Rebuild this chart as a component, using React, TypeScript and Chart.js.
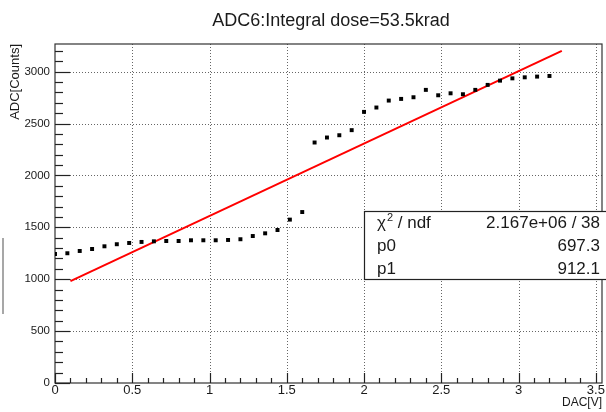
import React, { useEffect, useRef } from "react";
import { Chart, registerables } from "chart.js";

Chart.register(...registerables);

const TITLE = "ADC6:Integral dose=53.5krad";
const X_TITLE = "DAC[V]";
const Y_TITLE = "ADC[Counts]";

const DAC_V = [
  0, 0.08, 0.16, 0.24, 0.32, 0.4, 0.48, 0.56, 0.64, 0.72, 0.8, 0.88, 0.96, 1.04,
  1.12, 1.2, 1.28, 1.36, 1.44, 1.52, 1.6, 1.68, 1.76, 1.84, 1.92, 2.0, 2.08,
  2.16, 2.24, 2.32, 2.4, 2.48, 2.56, 2.64, 2.72, 2.8, 2.88, 2.96, 3.04, 3.12, 3.2,
];
const ADC_COUNTS = [
  1243, 1250, 1272, 1291, 1317, 1337, 1349, 1359, 1365, 1368, 1368, 1375, 1375,
  1375, 1378, 1385, 1416, 1442, 1474, 1574, 1647, 2317, 2365, 2387, 2436, 2612,
  2654, 2721, 2737, 2753, 2824, 2772, 2791, 2782, 2824, 2872, 2913, 2935, 2945,
  2952, 2958,
];

const X_TICKS = [0, 0.5, 1, 1.5, 2, 2.5, 3, 3.5];
const Y_TICKS = [0, 500, 1000, 1500, 2000, 2500, 3000];
const X_MINOR_STEP = 0.1;
const Y_MINOR_STEP = 100;
const X_RANGE = [0, 3.54];
const Y_RANGE = [0, 3266];

const FIT_RANGE = [0.1, 3.28];
const FIT_P0 = 697.3; // slope as drawn
const FIT_P1 = 912.1; // intercept as drawn

const STATS_LABELS = ["χ", "p0", "p1"];
const STATS_VALUES = ["2.167e+06 / 38", "697.3", "912.1"];

const FONT = "'Liberation Sans', Arial, Helvetica, sans-serif";
const TEXT = "#1a1a1a";

const rootStyle = {
  id: "rootStyle",
  beforeDatasetsDraw(chart: any) {
    const { ctx, chartArea: a, scales } = chart;
    const x = scales.x;
    const y = scales.y;
    ctx.save();
    // dotted grid
    ctx.strokeStyle = "#666";
    ctx.lineWidth = 1;
    ctx.setLineDash([1, 2]);
    X_TICKS.forEach((v) => {
      const px = Math.round(x.getPixelForValue(v)) + 0.5;
      if (px > a.left + 2 && px < a.right - 1) {
        ctx.beginPath();
        ctx.moveTo(px, a.top);
        ctx.lineTo(px, a.bottom);
        ctx.stroke();
      }
    });
    Y_TICKS.forEach((v) => {
      const py = Math.round(y.getPixelForValue(v)) + 0.5;
      if (py < a.bottom - 2 && py > a.top + 1) {
        ctx.beginPath();
        ctx.moveTo(a.left, py);
        ctx.lineTo(a.right, py);
        ctx.stroke();
      }
    });
    ctx.setLineDash([]);
    // frame
    ctx.strokeStyle = "#333";
    ctx.lineWidth = 1.2;
    ctx.strokeRect(a.left, a.top, a.right - a.left, a.bottom - a.top);
    // inward ticks
    ctx.strokeStyle = "#222";
    ctx.lineWidth = 1.2;
    for (let v = 0; v <= Y_RANGE[1] + 1e-6; v += Y_MINOR_STEP) {
      const major = Math.abs(v % 500) < 1e-6;
      const py = Math.round(y.getPixelForValue(v)) + 0.5;
      ctx.beginPath();
      ctx.moveTo(a.left, py);
      ctx.lineTo(a.left + (major ? 15 : 8), py);
      ctx.stroke();
    }
    for (let i = 0; i * X_MINOR_STEP <= X_RANGE[1] + 1e-6; i++) {
      const v = i * X_MINOR_STEP;
      const major = i % 5 === 0;
      const px = Math.round(x.getPixelForValue(v)) + 0.5;
      ctx.beginPath();
      ctx.moveTo(px, a.bottom);
      ctx.lineTo(px, a.bottom - (major ? 10 : 5));
      ctx.stroke();
    }
    // left-edge gray bar
    ctx.strokeStyle = "#8a8a8a";
    ctx.lineWidth = 1.5;
    ctx.beginPath();
    ctx.moveTo(3, 238);
    ctx.lineTo(3, 314);
    ctx.stroke();
    ctx.restore();
  },
  afterDraw(chart: any) {
    const { ctx } = chart;
    ctx.save();
    // title
    ctx.fillStyle = TEXT;
    ctx.font = `18px ${FONT}`;
    ctx.textAlign = "center";
    ctx.textBaseline = "alphabetic";
    ctx.fillText(TITLE, 331, 25.5);
    // stats box
    const bx = 364.5, by = 211.5, bw = 244, bh = 68;
    ctx.fillStyle = "#fff";
    ctx.fillRect(bx, by, bw, bh);
    ctx.strokeStyle = "#222";
    ctx.lineWidth = 1.2;
    ctx.strokeRect(bx, by, bw, bh);
    ctx.fillStyle = TEXT;
    const rows = [228, 251, 274];
    ctx.font = `17px ${FONT}`;
    ctx.textAlign = "left";
    // row 1: chi^2 / ndf
    ctx.fillText(STATS_LABELS[0], 377, rows[0]);
    let cx = 377 + ctx.measureText(STATS_LABELS[0]).width + 1;
    ctx.font = `11px ${FONT}`;
    ctx.fillText("2", cx, rows[0] - 7);
    cx += ctx.measureText("2").width;
    ctx.font = `17px ${FONT}`;
    ctx.fillText(" / ndf", cx, rows[0]);
    ctx.fillText(STATS_LABELS[1], 377, rows[1]);
    ctx.fillText(STATS_LABELS[2], 377, rows[2]);
    ctx.textAlign = "right";
    STATS_VALUES.forEach((s, i) => ctx.fillText(s, 600, rows[i]));
    ctx.restore();
  },
};

export default function App() {
  const ref = useRef<HTMLCanvasElement | null>(null);
  useEffect(() => {
    if (!ref.current) return;
    const points = DAC_V.map((v, i) => ({ x: v, y: ADC_COUNTS[i] }));
    const fit = FIT_RANGE.map((v) => ({ x: v, y: FIT_P1 + FIT_P0 * v }));
    const chart = new Chart(ref.current, {
      type: "scatter",
      data: {
        datasets: [
          {
            type: "line",
            data: fit,
            borderColor: "#ff0000",
            borderWidth: 2,
            pointRadius: 0,
            fill: false,
            order: 1,
          } as any,
          {
            data: points,
            pointStyle: "rect",
            pointRadius: 2.8,
            borderWidth: 0,
            backgroundColor: "#000",
            borderColor: "#000",
            order: 0,
          } as any,
        ],
      },
      options: {
        responsive: false,
        animation: false,
        layout: { padding: { top: 44, right: 4, left: 0, bottom: 0 } },
        plugins: {
          legend: { display: false },
          title: { display: false },
          tooltip: { enabled: false },
        },
        scales: {
          x: {
            type: "linear",
            min: X_RANGE[0],
            max: X_RANGE[1],
            afterBuildTicks: (s: any) => {
              s.ticks = X_TICKS.map((v) => ({ value: v }));
            },
            afterFit: (s: any) => {
              s.height = 29;
            },
            grid: { display: false, drawTicks: false, tickLength: 0 },
            border: { display: false },
            ticks: {
              font: { family: FONT, size: 13 },
              color: TEXT,
              padding: 0,
              maxRotation: 0,
              autoSkip: false,
              callback: (v: any) => String(v),
            },
            title: {
              display: true,
              text: X_TITLE,
              align: "end",
              color: TEXT,
              font: { family: FONT, size: 12 },
              padding: { top: 0, bottom: 2 },
            },
          },
          y: {
            type: "linear",
            min: Y_RANGE[0],
            max: Y_RANGE[1],
            afterBuildTicks: (s: any) => {
              s.ticks = Y_TICKS.map((v) => ({ value: v }));
            },
            afterFit: (s: any) => {
              s.width = 55;
            },
            grid: { display: false, drawTicks: false, tickLength: 0 },
            border: { display: false },
            ticks: {
              font: { family: FONT, size: 11.5 },
              color: TEXT,
              padding: 5,
              autoSkip: false,
              callback: (v: any) => String(v),
            },
            title: {
              display: true,
              text: Y_TITLE,
              align: "end",
              color: TEXT,
              font: { family: FONT, size: 13 },
              padding: { top: 8, bottom: 0 },
            },
          },
        },
      } as any,
      plugins: [rootStyle],
    });
    return () => chart.destroy();
  }, []);
  return (
    <div style={{ position: "fixed", left: 0, top: 0, width: 606, height: 412, background: "#fff" }}>
      <canvas ref={ref} width={606} height={412} />
    </div>
  );
}
